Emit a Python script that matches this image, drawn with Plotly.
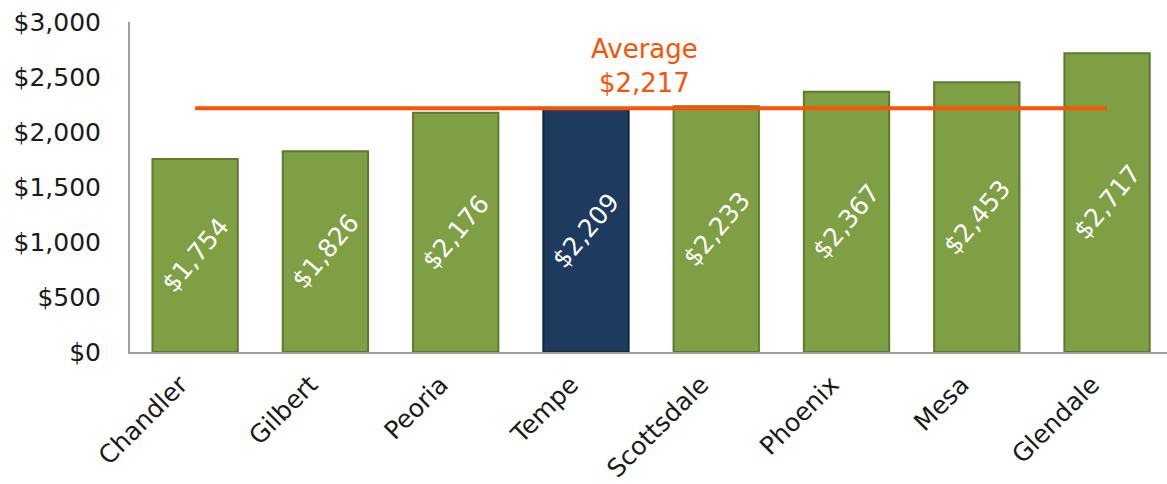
import plotly.graph_objects as go

cities = ["Chandler", "Gilbert", "Peoria", "Tempe", "Scottsdale", "Phoenix", "Mesa", "Glendale"]
values = [1754, 1826, 2176, 2209, 2233, 2367, 2453, 2717]
average = 2217
highlight = "Tempe"

green = "#7f9f44"
navy = "#1e3a5f"
colors = [navy if c == highlight else green for c in cities]
edge = ["#14283f" if c == highlight else "#5e7a2c" for c in cities]
labels = ["${:,}".format(v) for v in values]

font = "DejaVu Sans"

fig = go.Figure()
fig.add_trace(go.Bar(
    x=cities, y=values, width=0.655,
    marker=dict(color=colors, line=dict(color=edge, width=2)),
    hoverinfo="skip",
))
for c, v, t in zip(cities, values, labels):
    fig.add_annotation(x=c, y=v / 2, text=t, textangle=-50, showarrow=False,
                       font=dict(color="white", size=25, family=font))
fig.add_trace(go.Scatter(
    x=[cities[0], cities[-1]], y=[average, average], mode="lines",
    line=dict(color="#fc5206", width=4), hoverinfo="skip",
))
fig.add_annotation(
    x=3.45, y=average, xref="x", yref="y", yanchor="bottom", yshift=8,
    text="Average<br>${:,}".format(average), showarrow=False,
    font=dict(color="#fc5206", size=26, family=font),
)
fig.update_layout(
    width=1167, height=484, showlegend=False,
    margin=dict(l=130, r=0, t=22, b=132),
    paper_bgcolor="white", plot_bgcolor="white",
    font=dict(family=font, color="#222222"),
)
fig.update_yaxes(range=[0, 3000], dtick=500, tickprefix="$", tickformat=",",
                 showgrid=False, showline=True, linecolor="#a0a0a0", linewidth=2,
                 tickfont=dict(size=25, family=font, color="#1a1a1a"), ticks="",
                 ticklabelstandoff=22, zeroline=False)
fig.update_xaxes(range=[-0.5, 7.46], showgrid=False, showline=True, linecolor="#a0a0a0",
                 linewidth=2, tickangle=-45, ticklabelstandoff=6, ticklabelshift=-15,
                 tickfont=dict(size=25, family=font, color="#1a1a1a"))
fig.write_html("out.html")
